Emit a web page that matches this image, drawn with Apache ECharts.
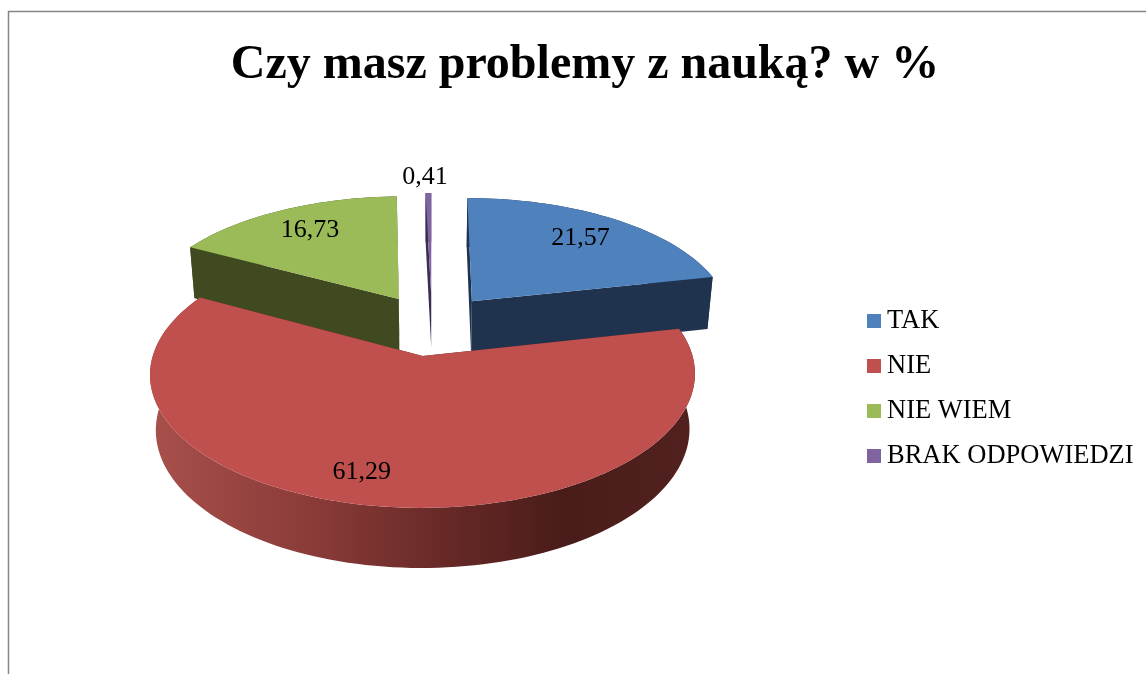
<!DOCTYPE html>
<html><head><meta charset="utf-8">
<style>html,body{margin:0;padding:0;background:#fff}#c{width:1146px;height:674px}</style>
<script src="https://cdn.jsdelivr.net/npm/echarts@6/dist/echarts.min.js"></script>
</head><body><div id="c"></div>
<script>
const categories = ['TAK', 'NIE', 'NIE WIEM', 'BRAK ODPOWIEDZI'];
const values = [21.57, 61.29, 16.73, 0.41];
const valueLabels = ['21,57', '61,29', '16,73', '0,41'];
const titleText = 'Czy masz problemy z nauką? w %';

// Styling and projection settings (not data)
const topColors = ['#4f81bd', '#c0504d', '#9bbb59', '#8064a2'];
const sideColors = ['#1f334f', '#4f1f1d', '#404a21', '#3a2c52'];
const FONT = '"Liberation Serif","Times New Roman",serif';
const CX = 432, CY = 324.5, FX = 261, FY = 122.6, P = 0.133, Q = 0.02, H = 55, EXPLODE = 0.25;
// label placement: radial fraction, and pixel nudge, per slice
const labelLayout = [[0.76, -1, 1], [0.76, -28, 6], [0.76, 2, 0], [1.16, -3, -2]];

const total = values.reduce((a, b) => a + b, 0);
const starts = [];
values.reduce((acc, v, i) => { starts[i] = acc; return acc + v; }, 0);
const toRad = v => v / total * 2 * Math.PI;

function project(u, v, bottom) {
  const w = 1 - P * v;
  if (!bottom) return [CX + FX * u / w, CY + FY * v / w];
  const wb = w + Q;
  return [CX + FX * u / wb, CY + (FY * v + H) / wb];
}

function sliceShapes(i) {
  const a0 = toRad(starts[i]), a1 = toRad(starts[i] + values[i]);
  const mid = (a0 + a1) / 2;
  const ou = EXPLODE * Math.sin(mid), ov = -EXPLODE * Math.cos(mid);
  const pt = (a, r, b) => project(ou + r * Math.sin(a), ov - r * Math.cos(a), b);
  const n = Math.max(2, Math.ceil((a1 - a0) / 0.03));
  const angs = [];
  for (let k = 0; k <= n; k++) angs.push(a0 + (a1 - a0) * k / n);
  const topArc = angs.map(a => pt(a, 1, false));
  const botArc = angs.map(a => pt(a, 1, true));
  const apexT = pt(0, 0, false), apexB = pt(0, 0, true);
  const side = sideColors[i];
  const wallFill = i === 1
    ? new echarts.graphic.LinearGradient(0, 0, 1, 0, [
        { offset: 0, color: '#a8504c' },
        { offset: 0.3, color: '#8a3b38' },
        { offset: 0.55, color: '#662926' },
        { offset: 0.76, color: '#491c1a' },
        { offset: 1, color: '#52211f' }
      ])
    : side;
  const children = [
    { type: 'polygon', shape: { points: topArc.concat(botArc.slice().reverse()) }, style: { fill: wallFill } },
    { type: 'polygon', shape: { points: [apexT, topArc[0], botArc[0], apexB] }, style: { fill: side } },
    { type: 'polygon', shape: { points: [apexT, topArc[n], botArc[n], apexB] }, style: { fill: side } },
    { type: 'polygon', shape: { points: [apexT].concat(topArc) }, style: { fill: topColors[i] } }
  ];
  const [lr, dx, dy] = labelLayout[i];
  const lp = pt(mid, lr, false);
  children.push({
    type: 'text', z2: 20,
    style: { text: valueLabels[i], x: lp[0] + dx, y: lp[1] + dy, fill: '#000', font: '26px ' + FONT, textAlign: 'center', textVerticalAlign: 'middle' }
  });
  return { type: 'group', children };
}

const chart = echarts.init(document.getElementById('c'), null, { renderer: 'canvas' });
chart.setOption({
  animation: false,
  backgroundColor: '#fff',
  title: {
    text: titleText, left: 580, top: 37, textAlign: 'center',
    textStyle: { fontFamily: FONT, fontWeight: 'bold', fontSize: 48, color: '#000' }
  },
  legend: {
    orient: 'vertical', left: 862, top: 301, icon: 'rect',
    itemWidth: 14, itemHeight: 14, itemGap: 15,
    textStyle: { fontFamily: FONT, fontSize: 26.5, color: '#000', lineHeight: 30, padding: [0, 0, 0, 1] },
    data: categories
  },
  graphic: [{
    type: 'rect', silent: true, z: -1,
    shape: { x: 8.5, y: 11.5, width: 1400, height: 900 },
    style: { fill: 'none', stroke: '#868686', lineWidth: 1.5 }
  }],
  series: categories.map((name, i) => ({
    type: 'custom', name, coordinateSystem: 'none', z: i === 1 ? 4 : 3,
    itemStyle: { color: topColors[i] },
    data: [values[i]],
    renderItem: () => sliceShapes(i)
  }))
});
</script></body></html>
